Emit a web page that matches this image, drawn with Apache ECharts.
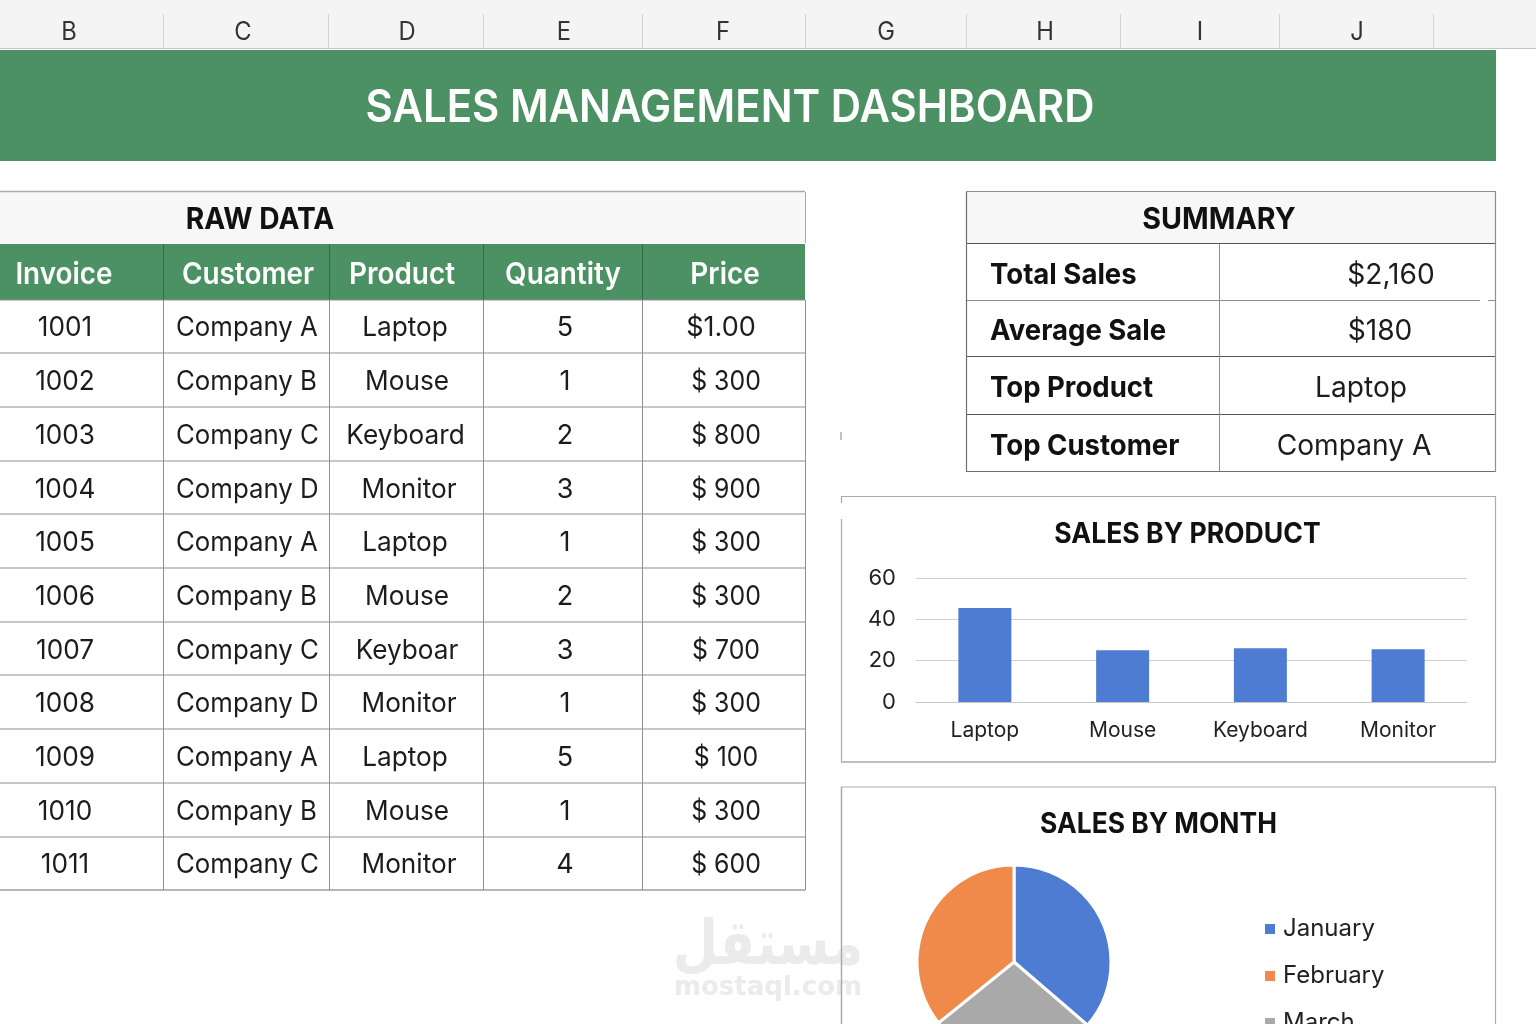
<!DOCTYPE html>
<html><head><meta charset="utf-8">
<style>html,body{margin:0;padding:0;background:#fff;overflow:hidden}#c{width:1536px;height:1024px}</style>
<script src="https://cdn.jsdelivr.net/npm/echarts@6/dist/echarts.min.js"></script>
</head><body><div id="c"></div>
<script>
const columnLetters=['B','C','D','E','F','G','H','I','J'];
const tableHeaders=['Invoice','Customer','Product','Quantity','Price'];
const invoices=['1001','1002','1003','1004','1005','1006','1007','1008','1009','1010','1011'];
const customers=['Company A','Company B','Company C','Company D','Company A','Company B','Company C','Company D','Company A','Company B','Company C'];
const products=['Laptop','Mouse','Keyboard','Monitor','Laptop','Mouse','Keyboar','Monitor','Laptop','Mouse','Monitor'];
const quantities=['5','1','2','3','1','2','3','1','5','1','4'];
const prices=['$1.00','$ 300','$ 800','$ 900','$ 300','$ 300','$ 700','$ 300','$ 100','$ 300','$ 600'];
const summaryLabels=['Total Sales','Average Sale','Top Product','Top Customer'];
const summaryValues=['$2,160','$180','Laptop','Company A'];
const barCategories=['Laptop','Mouse','Keyboard','Monitor'];
const barValues=[45.5,25,26,25.5];
const pieMonths=['January','March','February'];
const pieValues=[36.3,27.9,35.8];
const legendOrder=['January','February','March'];

const F='Inter, "Noto Sans", sans-serif';
const GREEN='#4c9163',LINE='#8f8f8f',SOFT='#ababab';
const g=[];
const rect=(x,y,w,h,fill,z)=>g.push({type:'rect',silent:true,z:z||1,shape:{x,y,width:w,height:h},style:{fill}});
const line=(x1,y1,x2,y2,stroke,w,z)=>g.push({type:'line',silent:true,z:z||3,shape:{x1,y1,x2,y2},style:{stroke,lineWidth:w||1}});
const txt=(text,x,y,size,weight,fill,sx,align,z)=>g.push({type:'text',silent:true,z:z||5,x,y:y+2,scaleX:sx||1,style:{text,fill:fill||'#1c1c1c',align:align||'center',verticalAlign:'middle',font:`${weight||400} ${size}px ${F}`}});

// sheet column strip
rect(0,0,1536,48,'#f4f4f4');
line(0,48.5,1536,48.5,'#c4c4c4',1);
[163,328,483,642,805,966,1120,1279,1433].forEach(x=>line(x+.5,14,x+.5,48,'#d2d2d2',1));
[69,243,407,564,723,886,1045,1200,1357].forEach((x,i)=>txt(columnLetters[i],x,30,25,400,'#333',.95));
// banner
rect(0,50,1496,111,GREEN);
txt('SALES MANAGEMENT DASHBOARD',730,106,45,600,'#fff',.932);
// watermark (under the frames)
g.push({type:'text',silent:true,z:2,x:768,y:948,scaleX:.84,style:{text:'مستقل',fill:'#ebebeb',align:'center',verticalAlign:'middle',font:'700 62px "DejaVu Sans"'}});
g.push({type:'text',silent:true,z:2,x:768,y:988,style:{text:'mostaql.com',fill:'#ebebeb',align:'center',verticalAlign:'middle',font:'700 26px "DejaVu Sans"'}});

// raw data table
const cols=[0,163,329,483,642,805];
rect(0,192,805,51,'#f7f7f7');
line(0,191.5,805,191.5,SOFT,1.5);
line(805.5,192,805.5,243,SOFT,1);
txt('RAW DATA',260,218,30,700,'#111',.94);
rect(0,244,805,56,GREEN);
cols.slice(1,5).forEach(x=>line(x+.5,244,x+.5,300,'#2f6b45',1));
const headX=[64,248,402,563,725];
tableHeaders.forEach((t,i)=>txt(t,headX[i],273,30,600,'#fff',.93));
const rowTop=299.5,rowH=53.7;
const rows=invoices.length;
const productX={Laptop:405,Mouse:407,Keyboard:405.5,Keyboar:407,Monitor:409};
for(let r=0;r<=rows;r++){const y=Math.round(rowTop+r*rowH);line(0,y,805,y,r==rows?'#6f6f6f':LINE,r==0?1:1.2);}
cols.slice(1).forEach(x=>line(x+.5,300,x+.5,890,LINE,1));
invoices.forEach((v,r)=>{const y=rowTop+(r+.5)*rowH;
  txt(v,65,y,27,400,'#1c1c1c',.97);
  txt(customers[r],176,y,27,400,'#1c1c1c',.955,'left');
  txt(products[r],productX[products[r]],y,27,400,'#1c1c1c',.97);
  txt(quantities[r],565,y,27,400);
  txt(prices[r],r==0?721:726,y,27,400,'#1c1c1c',r==0?1:.92);
});

// summary
rect(967,192,529,51,'#f7f7f7');
const sumY=[243.5,300.5,356.5,414.5,471.5];
line(966,191.5,1496,191.5,LINE,1.2);
sumY.forEach((y,i)=>{ if(i==1){line(966,y,1480,y,LINE,1);line(1488,y,1496,y,LINE,1);} else line(966,y,1496,y,i==4?'#6f6f6f':'#555',1.2);});
line(966.5,192,966.5,472,'#6f6f6f',1.2);line(1495.5,192,1495.5,472,LINE,1.2);line(1219.5,244,1219.5,471,LINE,1);
txt('SUMMARY',1219,218,30,700,'#111',.955);
const valX=[1391,1380,1361,1354];
summaryLabels.forEach((t,i)=>{const y=(sumY[i]+sumY[i+1])/2+1;
  txt(t,990,y,29,700,'#111',.95,'left');
  txt(summaryValues[i],valX[i],y,29,400,'#1c1c1c',.97);
});

// chart frames and chart titles
line(841,496.5,1496,496.5,SOFT,1.2);line(1495.5,496,1495.5,762,SOFT,1.2);line(841,762,1496,762,SOFT,1.6);
line(841.5,496,841.5,503,SOFT,1.2);line(841.5,519,841.5,762,SOFT,1.2);
line(841,432,841,440,SOFT,1.5);
line(841,787,1496,787,SOFT,1.2);line(841.5,787,841.5,1024,SOFT,1.5);line(1495.5,787,1495.5,1024,SOFT,1.2);
txt('SALES BY PRODUCT',1187.5,533,28,700,'#111',.95);
txt('SALES BY MONTH',1158.5,823,28,700,'#111',.944);

const chart=echarts.init(document.getElementById('c'),null,{width:1536,height:1024});
chart.setOption({
  animation:false,
  grid:{left:916,top:578,width:551,height:124,containLabel:false},
  xAxis:{type:'category',data:barCategories,axisLine:{lineStyle:{color:'#c9c9c9'}},axisTick:{show:false},
    axisLabel:{margin:18,color:'#222',fontFamily:F,fontSize:21}},
  yAxis:{type:'value',min:0,max:60,interval:20,axisLine:{show:false},axisTick:{show:false},
    splitLine:{lineStyle:{color:'#cfcfcf',width:1}},
    axisLabel:{margin:20,color:'#222',fontFamily:F,fontSize:22}},
  legend:{orient:'vertical',left:1258,top:912,height:130,data:legendOrder,icon:'rect',itemWidth:12,itemHeight:12,itemGap:23,
    textStyle:{color:'#222',fontFamily:F,fontSize:24,padding:[0,0,0,2]},selectedMode:false},
  series:[
    {type:'bar',data:barValues,barWidth:53,itemStyle:{color:'#4f7cd3'},z:2},
    {type:'pie',center:[1014,962],radius:[0,97],startAngle:90,clockwise:true,silent:true,label:{show:false},labelLine:{show:false},
      itemStyle:{borderColor:'#fff',borderWidth:3},
      color:['#4f7cd3','#a9a9a9','#ef8a4b'],
      data:pieMonths.map((name,i)=>({name,value:pieValues[i]}))}
  ],
  graphic:g
});
</script></body></html>
